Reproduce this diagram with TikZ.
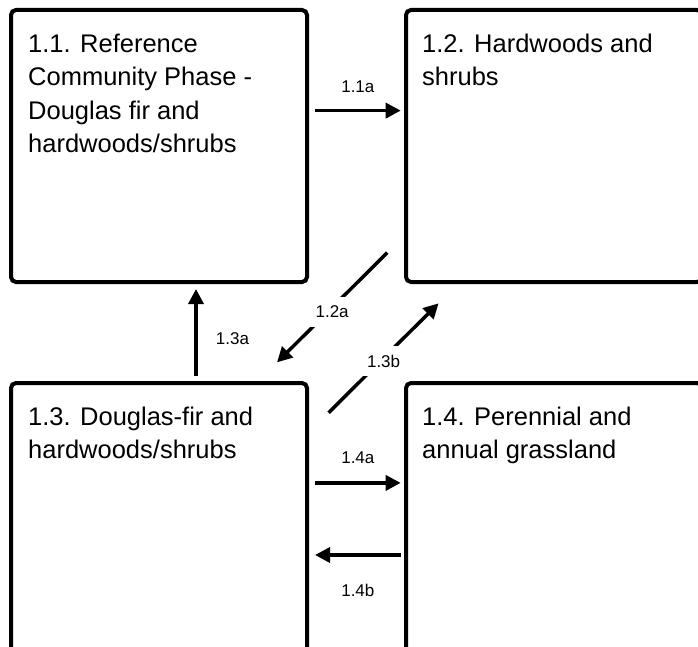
\documentclass[tikz,border=0pt]{standalone}
\usepackage{fontspec}
\setmainfont{Liberation Sans}
\usetikzlibrary{positioning,calc,arrows.meta}
\tikzset{
  phase/.style={draw, line width=4pt, rounded corners=5pt,
    minimum width=296pt, minimum height=272pt, inner sep=0pt, outer sep=0pt},
  phasetext/.style={anchor=north west, align=left, inner sep=0pt,
    font=\fontsize{25.5}{33.5}\selectfont},
  trans/.style={line width=3.5pt, -{Triangle[length=15pt,width=15pt]}},
  translabel/.style={font=\fontsize{17}{20}\selectfont, inner sep=1pt},
  cutlabel/.style={translabel, fill=white, inner sep=8.5pt}
}

\begin{document}
\begin{tikzpicture}[x=1pt,y=-1pt]
\useasboundingbox (0,0) rectangle (698,647);
\clip (0,0) rectangle (698,647);

% Draw the four community phases
\node[phase] (b11) at (159,146) {};
\node[phase, right=99pt of b11] (b12) {};
\node[phase, below=101pt of b11] (b13) {};
\node[phase, below=101pt of b12] (b14) {};

% Phase names
\node[phasetext] (t11) at ($(b11.north west)+(17pt,-23.5pt)$)
  {1.1. Reference\\Community Phase -\\Douglas fir and\\hardwoods/shrubs};
\node[phasetext] (t12) at ($(b12.north west)+(16pt,-23.5pt)$)
  {1.2. Hardwoods and\\shrubs};
\node[phasetext] (t13) at ($(b13.north west)+(17pt,-23.5pt)$)
  {1.3. Douglas-fir and\\hardwoods/shrubs};
\node[phasetext] (t14) at ($(b14.north west)+(16pt,-23.5pt)$)
  {1.4. Perennial and\\annual grassland};

% Transitions between phases
\draw[trans] ($(b11.north east)+(8pt,-100.6pt)$) -- ($(b12.north west)+(-5.3pt,-100.6pt)$)
  node[translabel, midway, yshift=24pt] {1.1a};
\draw[trans] ($(b13.north west)+(185pt,7.4pt)$) -- ($(b11.south west)+(185pt,-7pt)$)
  node[translabel, midway, xshift=36.5pt, yshift=-6pt] {1.3a};
\draw[trans] ($(b12.south west)+(-18.7pt,29.4pt)$) -- ($(b13.north east)+(-30pt,20.6pt)$)
  node[cutlabel, midway, yshift=-4.5pt] {1.2a};
\draw[trans] ($(b13.north east)+(21.6pt,-29.7pt)$) -- ($(b12.south west)+(32.6pt,-21.3pt)$)
  node[cutlabel, midway, yshift=-3pt] {1.3b};
\draw[trans] ($(b13.north east)+(8pt,-99.9pt)$) -- ($(b14.north west)+(-5.3pt,-99.9pt)$)
  node[translabel, midway, yshift=25pt] {1.4a};
\draw[trans] ($(b14.north west)+(-5.3pt,-172pt)$) -- ($(b13.north east)+(8pt,-172pt)$)
  node[translabel, midway, yshift=-35pt] {1.4b};

\end{tikzpicture}
\end{document}
